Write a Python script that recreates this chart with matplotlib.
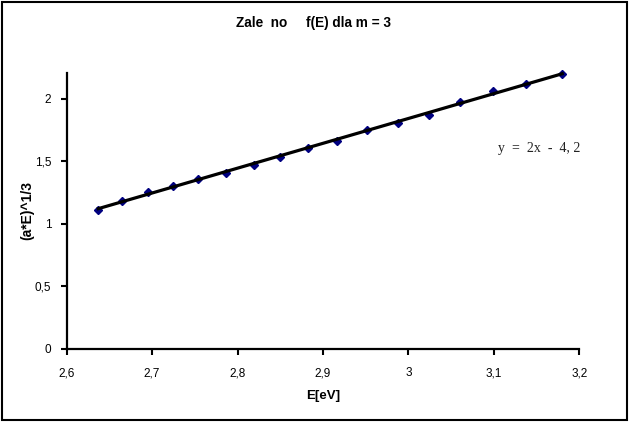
import matplotlib
matplotlib.use('Agg')
import matplotlib.pyplot as plt
from matplotlib.patches import Rectangle
import numpy as np

# Data
energy = [2.637, 2.665, 2.695, 2.724, 2.754, 2.786, 2.819, 2.850, 2.883,
          2.916, 2.952, 2.988, 3.024, 3.060, 3.099, 3.138, 3.180]
value = [1.112, 1.186, 1.254, 1.306, 1.358, 1.410, 1.472, 1.538, 1.608,
         1.666, 1.752, 1.810, 1.872, 1.974, 2.064, 2.118, 2.198]

x_ticks = [2.6, 2.7, 2.8, 2.9, 3.0, 3.1, 3.2]
x_tick_labels = ['2,6', '2,7', '2,8', '2,9', '3', '3,1', '3,2']
y_ticks = [0, 0.5, 1, 1.5, 2]
y_tick_labels = ['0', '0,5', '1', '1,5', '2']

title = 'Zale  no     f(E) dla m = 3'
equation = 'y  =  2x  -  4, 2'

plt.rcParams['font.family'] = ['Liberation Sans', 'DejaVu Sans']

fig = plt.figure(figsize=(6.29, 4.22), dpi=100)
ax = fig.add_axes([0.106, 0.173, 0.815, 0.655])

# Linear trendline
slope, intercept = np.polyfit(energy, value, 1)
xs = np.array([energy[0], energy[-1]])
ax.plot(xs, slope * xs + intercept, color='black', lw=2.3, zorder=3,
        clip_on=False)

# Data points
ax.plot(energy, value, linestyle='none', marker='D', markersize=4.5,
        color='#000080', markeredgecolor='#000080', zorder=2, clip_on=False)

ax.set_xlim(2.6, 3.2)
ax.set_ylim(0, 2.21)
ax.set_xticks(x_ticks)
ax.set_xticklabels(x_tick_labels)
ax.set_yticks(y_ticks)
ax.set_yticklabels(y_tick_labels)
ax.tick_params(direction='out', length=4, width=1.5, labelsize=8.5)
ax.tick_params(axis='x', pad=9)
ax.tick_params(axis='y', pad=7)

for side in ['top', 'right']:
    ax.spines[side].set_visible(False)
for side in ['left', 'bottom']:
    ax.spines[side].set_linewidth(1.6)

ax.set_xlabel('E[eV]', fontsize=9.5, fontweight='bold', labelpad=8)
ax.set_ylabel('(a*E)^1/3', fontsize=10, fontweight='bold')
ax.yaxis.set_label_coords(-0.064, 0.5)

fig.text(0.498, 0.945, title, ha='center', va='center',
         fontsize=9.8, fontweight='bold')
ax.text(3.105, 1.6, equation, ha='left', va='center', fontsize=10,
        family='Liberation Serif', color='#222222')

# Outer frame
fig.patches.append(Rectangle((0.003, 0.004), 0.994, 0.992, transform=fig.transFigure,
                             fill=False, edgecolor='black', lw=1.5))

fig.savefig('out.png', dpi=100)
